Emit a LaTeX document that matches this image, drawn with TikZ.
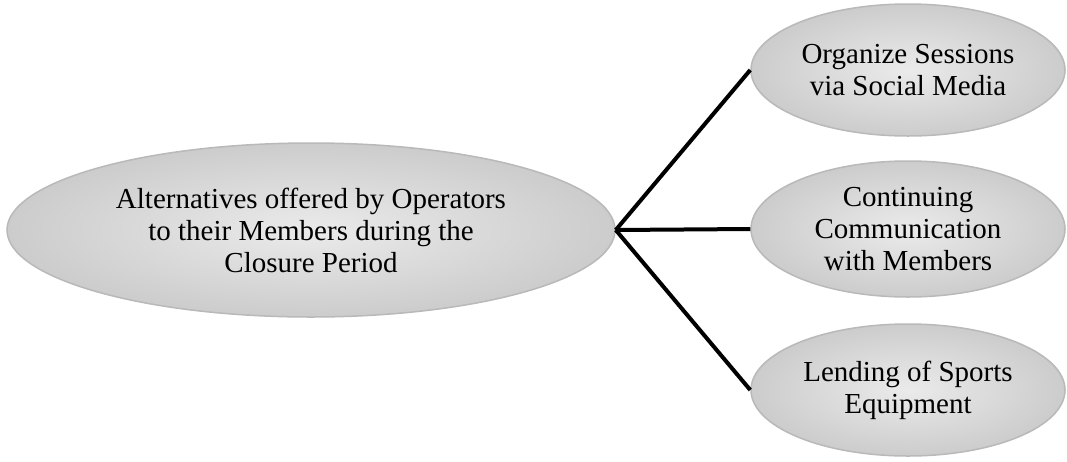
\documentclass[tikz,border=0pt]{standalone}
\usepackage{fontspec}
\setmainfont{Liberation Serif}
\usetikzlibrary{shapes.geometric}

\begin{document}
\begin{tikzpicture}[x=1pt,y=-1pt,
    bubble/.style={ellipse, inner sep=0pt, align=center,
        inner color=gray!16, outer color=gray!40,
        draw=gray!55, line width=1.5pt,
        font=\fontsize{29}{32}\selectfont},
    link/.style={line width=4pt}]
        \useasboundingbox (0,0) rectangle (1067,461);

        \node[bubble, minimum width=608pt, minimum height=174pt] (main) at (311,230)
            {Alternatives offered by Operators\\to their Members during the\\Closure Period};

        \node[bubble, minimum width=314pt, minimum height=132pt] (top) at (908,70)
            {Organize Sessions\\via Social Media};
        \node[bubble, minimum width=314pt, minimum height=136pt] (mid) at (908,229)
            {Continuing\\Communication\\with Members};
        \node[bubble, minimum width=314pt, minimum height=132pt] (bot) at (908,390)
            {Lending of Sports\\Equipment};

        \draw[link] (main.east) -- (top.west);
        \draw[link] (main.east) -- (mid.west);
        \draw[link] (main.east) -- (bot.west);

      \end{tikzpicture}
\end{document}
